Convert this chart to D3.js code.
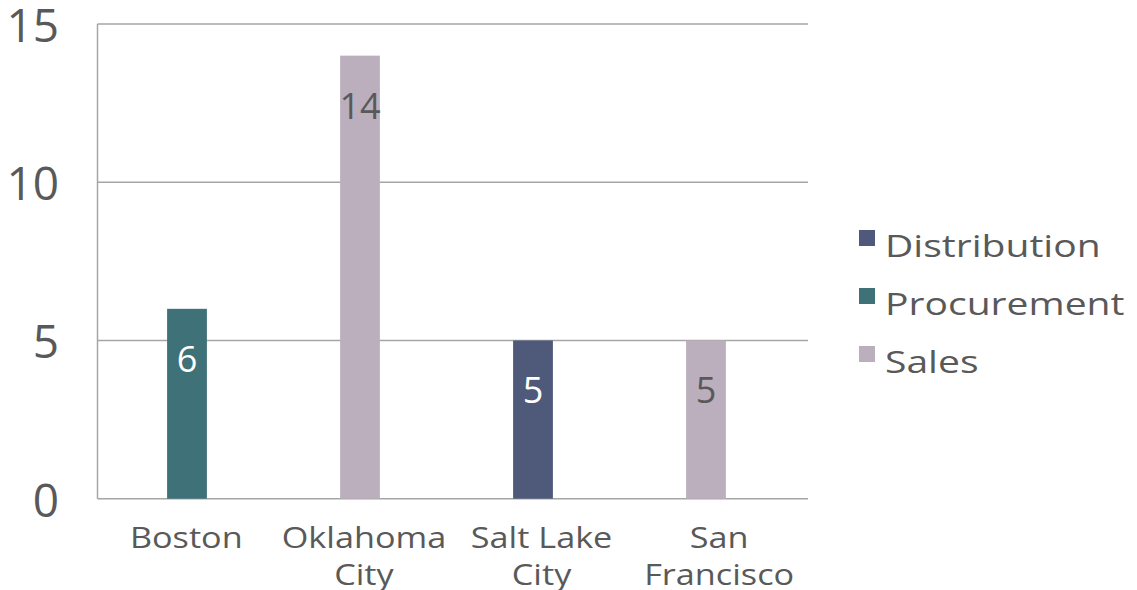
<!DOCTYPE html>
<html>
<head>
<meta charset="utf-8">
<script src="https://cdn.jsdelivr.net/npm/d3@7/dist/d3.min.js"></script>
<style>
  body { margin: 0; background: #fff; }
  svg { display: block; font-family: "Open Sans", sans-serif; }
</style>
</head>
<body>
<script>
// data
const cities = ["Boston", "Oklahoma City", "Salt Lake City", "San Francisco"];
const cityLines = [["Boston"], ["Oklahoma", "City"], ["Salt Lake", "City"], ["San", "Francisco"]];
const departments = ["Procurement", "Sales", "Distribution", "Sales"];
const counts = [6, 14, 5, 5];
const yTicks = [0, 5, 10, 15];
const legendKeys = ["Distribution", "Procurement", "Sales"];

const width = 1137, height = 590;
const textColor = "#595959";

var color = d3.scaleOrdinal()
    .domain(legendKeys)
    .range(["#4f5a7b", "#3f7179", "#bcafbd"]);

// bars sit a bit left of the label centres in the original
var x = d3.scaleBand()
    .domain(cities)
    .range([100.5, 792.5])
    .paddingInner(0.77)
    .paddingOuter(0.385);

// category labels use the full plot width
var xLabel = d3.scaleBand()
    .domain(cities)
    .range([97.5, 808]);

var y = d3.scaleLinear()
    .domain([0, 15])
    .range([498.7, 24]);

var svg = d3.select("body").append("svg")
    .attr("width", width)
    .attr("height", height);

// the original face is wider than Open Sans, so stretch text a little
function widen(sel, k) {
  sel.each(function() {
    var len = this.getComputedTextLength();
    d3.select(this)
      .attr("textLength", len * k)
      .attr("lengthAdjust", "spacingAndGlyphs");
  });
}

// gridlines
svg.append("g")
  .selectAll("line")
  .data(yTicks)
  .enter().append("line")
  .attr("x1", 97.5)
  .attr("x2", 808)
  .attr("y1", d => y(d))
  .attr("y2", d => y(d))
  .attr("stroke", "#a6a6a6")
  .attr("stroke-width", 1.5);

// left axis line
svg.append("line")
  .attr("x1", 97.5).attr("x2", 97.5)
  .attr("y1", y(15)).attr("y2", y(0))
  .attr("stroke", "#a6a6a6")
  .attr("stroke-width", 1.5);

// y tick labels
svg.append("g")
  .selectAll("text")
  .data(yTicks)
  .enter().append("text")
  .attr("x", 59)
  .attr("y", d => y(d) + 18)
  .attr("text-anchor", "end")
  .attr("font-size", 46)
  .attr("fill", textColor)
  .text(d => d);

// bars
var bars = svg.append("g")
  .selectAll("g")
  .data(cities)
  .enter().append("g");

bars.append("rect")
  .attr("x", d => x(d))
  .attr("width", x.bandwidth())
  .attr("y", (d, i) => y(counts[i]))
  .attr("height", (d, i) => y(0) - y(counts[i]))
  .attr("fill", (d, i) => color(departments[i]));

bars.append("text")
  .attr("x", d => x(d) + x.bandwidth() / 2)
  .attr("y", (d, i) => y(counts[i]) + 63)
  .attr("text-anchor", "middle")
  .attr("font-size", 36)
  .attr("fill", (d, i) => departments[i] === "Sales" ? textColor : "#ffffff")
  .text((d, i) => counts[i]);

// category labels, one text per line
var catLines = svg.append("g")
  .selectAll("text")
  .data(d3.merge(cities.map((c, i) => cityLines[i].map((t, j) => ({t: t, c: c, j: j})))))
  .enter().append("text")
  .attr("x", d => xLabel(d.c) + xLabel.bandwidth() / 2)
  .attr("y", d => 548 + d.j * 37)
  .attr("text-anchor", "middle")
  .attr("font-size", 29)
  .attr("fill", textColor)
  .text(d => d.t);

widen(catLines, 1.18);

// legend
var legend = svg.append("g")
  .selectAll("g")
  .data(legendKeys)
  .enter().append("g")
  .attr("transform", (d, i) => "translate(859," + (230 + i * 58) + ")");

legend.append("rect")
  .attr("width", 16)
  .attr("height", 16)
  .attr("fill", d => color(d));

var legendText = legend.append("text")
  .attr("x", 26)
  .attr("y", 27)
  .attr("font-size", 31)
  .attr("fill", textColor)
  .text(d => d);

widen(legendText, 1.26);
</script>
</body>
</html>
